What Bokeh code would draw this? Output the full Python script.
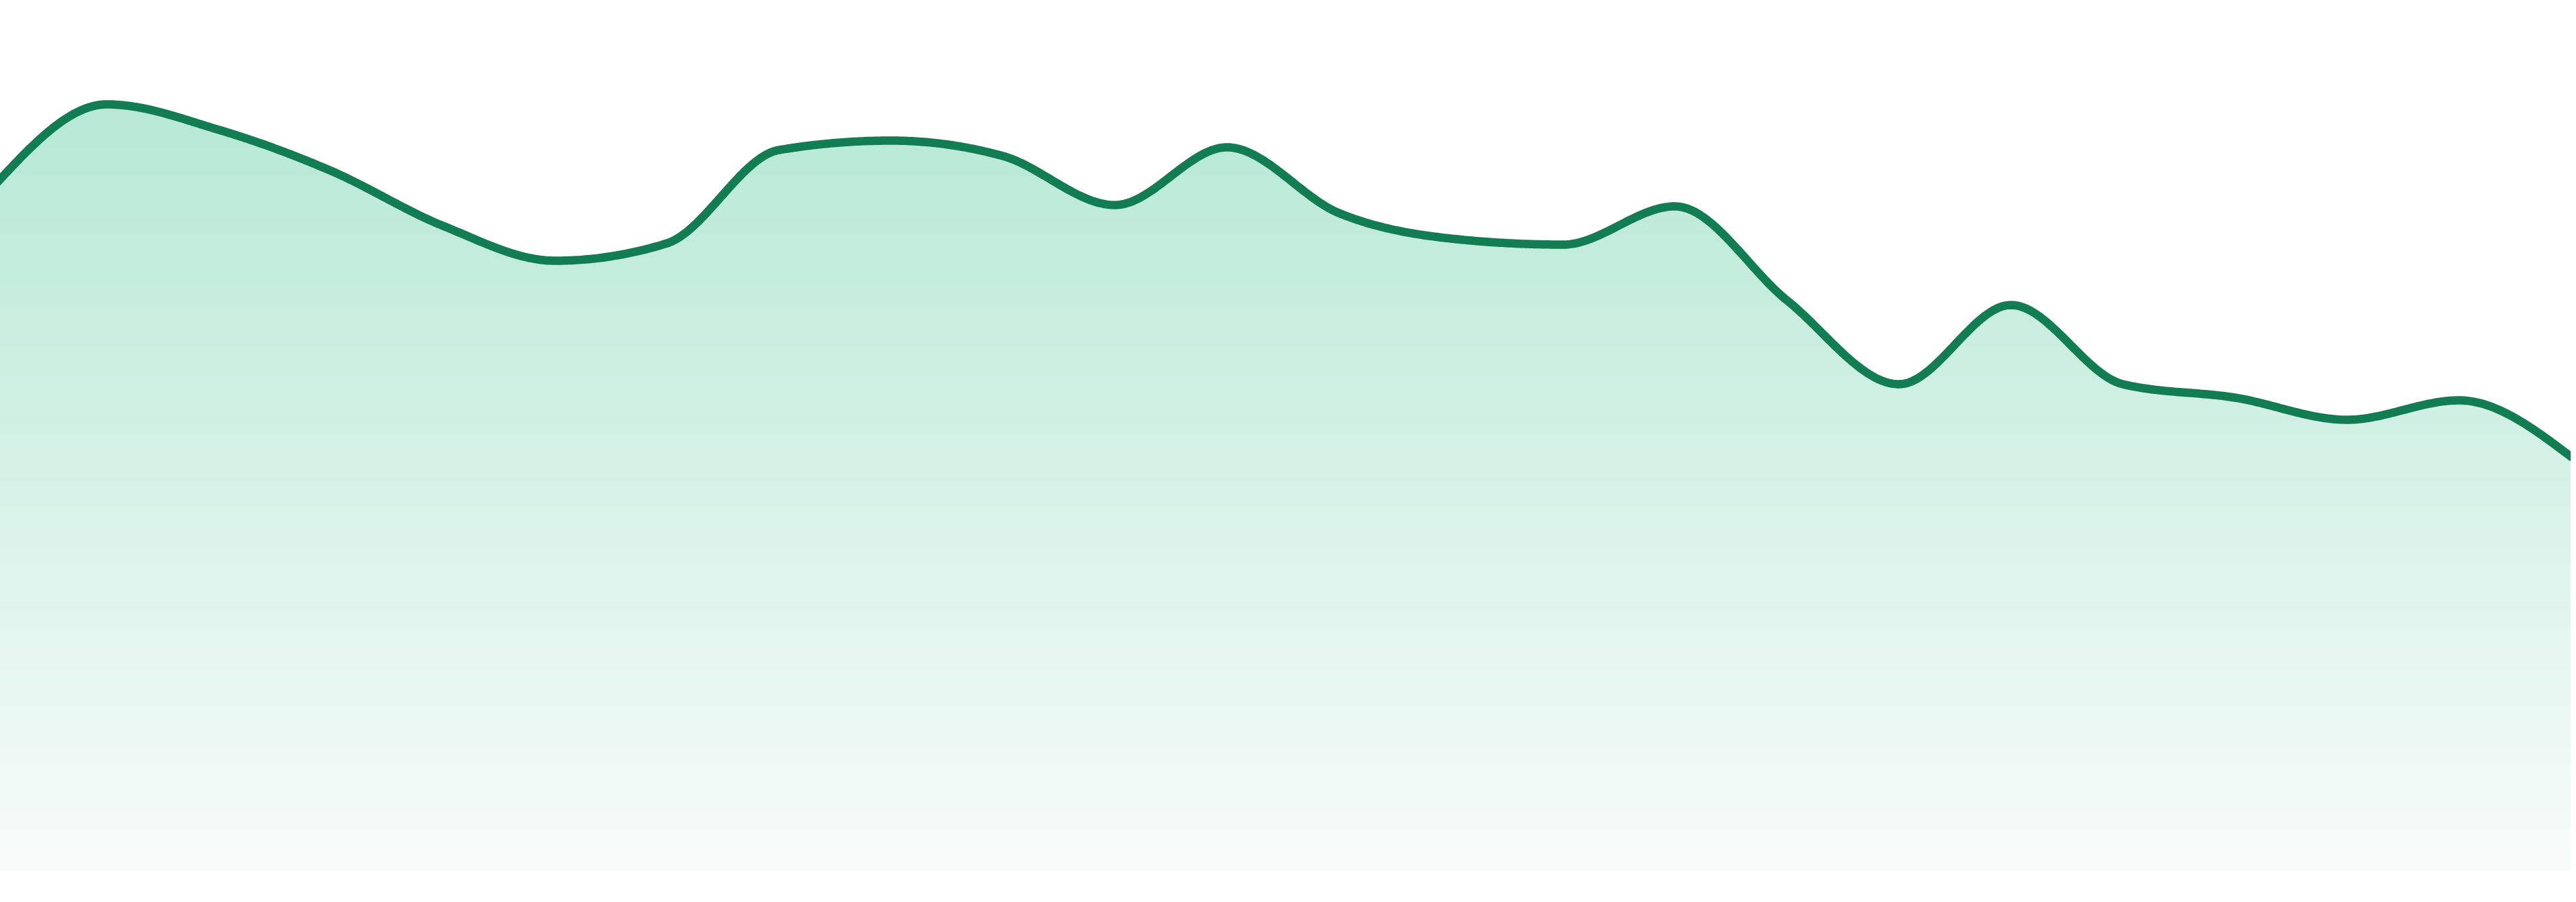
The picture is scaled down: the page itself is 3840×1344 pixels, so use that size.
import numpy as np
from bokeh.plotting import figure
from bokeh.models import Range1d
from bokeh.embed import file_html
from bokeh.resources import INLINE

# ---- data (24 evenly spaced observations) ----
periods = list(range(24))
values = [102.2, 114.2, 110.4, 104.3, 96.1, 90.9, 93.5, 107.4, 108.8, 106.5,
          99.2, 107.8, 98.0, 94.2, 93.3, 99.0, 85.0, 72.5, 84.3, 72.5,
          70.5, 67.2, 70.1, 61.7]

LINE_COLOR = "#127c52"
TOP_RGB = (183, 233, 214)
BOTTOM_RGB = (248, 252, 251)


def monotone_x(xs, ys, samples=48):
    """d3 curveMonotoneX rendering of the series as cubic Bezier segments."""
    xs = np.asarray(xs, float)
    ys = np.asarray(ys, float)
    n = len(xs)
    h = np.diff(xs)
    s = np.diff(ys) / h
    m = np.zeros(n)
    for i in range(1, n - 1):
        h0, h1 = h[i - 1], h[i]
        s0, s1 = s[i - 1], s[i]
        p = (s0 * h1 + s1 * h0) / (h0 + h1)
        m[i] = (np.sign(s0) + np.sign(s1)) * min(abs(s0), abs(s1), 0.5 * abs(p))
    m[0] = (3 * s[0] - m[1]) / 2
    m[-1] = (3 * s[-1] - m[-2]) / 2
    px, py = [], []
    t = np.linspace(0, 1, samples, endpoint=False)
    for i in range(n - 1):
        dx = h[i] / 3
        P0 = (xs[i], ys[i])
        P1 = (xs[i] + dx, ys[i] + dx * m[i])
        P2 = (xs[i + 1] - dx, ys[i + 1] - dx * m[i + 1])
        P3 = (xs[i + 1], ys[i + 1])
        a = (1 - t) ** 3
        b = 3 * (1 - t) ** 2 * t
        c = 3 * (1 - t) * t ** 2
        d = t ** 3
        px.extend(a * P0[0] + b * P1[0] + c * P2[0] + d * P3[0])
        py.extend(a * P0[1] + b * P1[1] + c * P2[1] + d * P3[1])
    px.append(xs[-1])
    py.append(ys[-1])
    return np.array(px), np.array(py)


cx, cy = monotone_x(periods, values)
top_val = float(cy.max())

Y_MIN, Y_MAX = -3.1, 130.5

p = figure(width=3840, height=1336, output_backend="svg", toolbar_location=None,
           x_range=Range1d(periods[0], periods[-1]), y_range=Range1d(Y_MIN, Y_MAX),
           min_border=0, min_border_left=0, min_border_right=0,
           min_border_top=0, min_border_bottom=0,
           styles={"margin-left": "-8px", "margin-top": "-8px"})
p.axis.visible = False
p.xgrid.visible = False
p.ygrid.visible = False
p.outline_line_color = None
p.background_fill_color = "white"
p.border_fill_color = "white"

# vertical gradient image spanning baseline (0) to top of the area
rows = 400
img = np.zeros((rows, 2), dtype=np.uint32)
view = img.view(dtype=np.uint8).reshape((rows, 2, 4))
frac = np.linspace(0, 1, rows)  # 0 = bottom, 1 = top
for k in range(3):
    view[:, :, k] = (BOTTOM_RGB[k] + (TOP_RGB[k] - BOTTOM_RGB[k]) * frac)[:, None].astype(np.uint8)
view[:, :, 3] = 255
p.image_rgba(image=[img], x=periods[0], y=0, dw=periods[-1] - periods[0], dh=top_val)

# white mask above the curve
p.varea(x=cx, y1=cy, y2=np.full_like(cy, Y_MAX + 5), fill_color="white")

# line
p.line(cx, cy, line_color=LINE_COLOR, line_width=12.5, line_join="round", line_cap="round")

open("out.html", "w").write(file_html(p, INLINE))
